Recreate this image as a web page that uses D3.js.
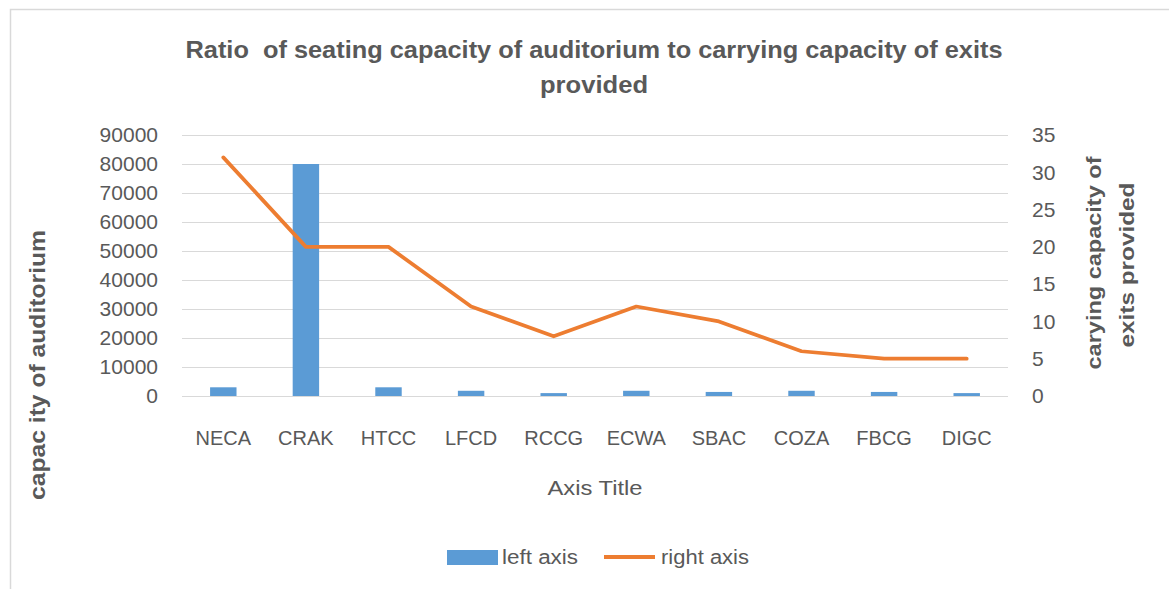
<!DOCTYPE html>
<html><head><meta charset="utf-8">
<script src="https://cdn.jsdelivr.net/npm/d3@7"></script>
<style>
body{margin:0;background:#fff;}
text{font-family:"Liberation Sans",Arial,sans-serif;fill:#595959;}
</style>
</head><body>
<svg id="c" width="1169" height="589"></svg>
<script>
const categories = ["NECA","CRAK","HTCC","LFCD","RCCG","ECWA","SBAC","COZA","FBCG","DIGC"];
const leftValues = [3000,80000,3000,1800,1000,1800,1400,1800,1400,1000];
const rightValues = [32,20,20,12,8,12,10,6,5,5];
const leftTicks = [0,10000,20000,30000,40000,50000,60000,70000,80000,90000];
const rightTicks = [0,5,10,15,20,25,30,35];
const titleLines = ["Ratio  of seating capacity of auditorium to carrying capacity of exits","provided"];
const leftTitle = "capac ity of auditorium";
const rightTitleLines = ["carying capacity of","exits provided"];
const xTitle = "Axis Title";
const legendLabels = ["left axis","right axis"];

const svg = d3.select("#c");
const L = 182, R = 1008, T = 135, B = 396;
const blue = "#5B9BD5", orange = "#ED7D31", grid = "#d9d9d9";

svg.append("rect").attr("x",10.5).attr("y",9.5).attr("width",1300).attr("height",700)
  .attr("fill","#fff").attr("stroke","#d9d9d9").attr("stroke-width",1.5);

const x = d3.scaleBand().domain(categories).range([L,R]);
const yL = d3.scaleLinear().domain([0,90000]).range([B,T]);
const yR = d3.scaleLinear().domain([0,35]).range([B,T]);

const ff = '"Liberation Sans",Arial,sans-serif';

const gL = svg.append("g").attr("transform",`translate(${L},0)`)
  .call(d3.axisLeft(yL).tickValues(leftTicks).tickSize(-(R-L)).tickPadding(24).tickFormat(d3.format("d")));
gL.select(".domain").remove();
gL.selectAll("line").attr("stroke",grid).attr("stroke-width",1);
gL.selectAll("text").attr("font-size",21).attr("fill","#595959").style("font-family",ff);

const gR = svg.append("g").attr("transform",`translate(${R},0)`)
  .call(d3.axisRight(yR).tickValues(rightTicks).tickSize(0).tickPadding(24));
gR.select(".domain").remove();
gR.selectAll("text").attr("font-size",21).attr("fill","#595959").style("font-family",ff);

const gB = svg.append("g").attr("transform",`translate(0,${B})`)
  .call(d3.axisBottom(x).tickSize(0).tickPadding(35));
gB.select(".domain").remove();
gB.selectAll("text").attr("font-size",20).attr("fill","#595959").style("font-family",ff);

const bw = x.bandwidth()*0.32;
svg.append("g").selectAll("rect").data(categories).join("rect")
  .attr("x",d=>x(d)+x.bandwidth()/2-bw/2)
  .attr("width",bw)
  .attr("y",(d,i)=>yL(leftValues[i]))
  .attr("height",(d,i)=>yL(0)-yL(leftValues[i]))
  .attr("fill",blue);

const line = d3.line().x(d=>x(d.c)+x.bandwidth()/2).y(d=>yR(d.v));
svg.append("path").datum(categories.map((c,i)=>({c,v:rightValues[i]})))
  .attr("d",line).attr("fill","none").attr("stroke",orange).attr("stroke-width",3.75)
  .attr("stroke-linejoin","round").attr("stroke-linecap","round");

svg.append("text").attr("x",594).attr("y",58).attr("text-anchor","middle")
  .attr("font-size",24).attr("font-weight","bold").style("white-space","pre")
  .attr("textLength",817).attr("lengthAdjust","spacingAndGlyphs").text(titleLines[0]);
svg.append("text").attr("x",594).attr("y",93).attr("text-anchor","middle")
  .attr("font-size",24).attr("font-weight","bold")
  .attr("textLength",108).attr("lengthAdjust","spacingAndGlyphs").text(titleLines[1]);

svg.append("text").attr("transform","translate(45,365) rotate(-90)").attr("text-anchor","middle")
  .attr("font-size",22).attr("font-weight","bold").style("white-space","pre")
  .attr("textLength",270).attr("lengthAdjust","spacingAndGlyphs").text(leftTitle);
svg.append("text").attr("transform","translate(1101,263) rotate(-90)").attr("text-anchor","middle")
  .attr("font-size",21).attr("font-weight","bold")
  .attr("textLength",213).attr("lengthAdjust","spacingAndGlyphs").text(rightTitleLines[0]);
svg.append("text").attr("transform","translate(1134,265) rotate(-90)").attr("text-anchor","middle")
  .attr("font-size",21).attr("font-weight","bold")
  .attr("textLength",165).attr("lengthAdjust","spacingAndGlyphs").text(rightTitleLines[1]);
svg.append("text").attr("x",595).attr("y",495).attr("text-anchor","middle")
  .attr("font-size",21).attr("textLength",95).attr("lengthAdjust","spacingAndGlyphs").text(xTitle);

svg.append("rect").attr("x",447).attr("y",550).attr("width",51).attr("height",15).attr("fill",blue);
svg.append("text").attr("x",502).attr("y",564).attr("font-size",20)
  .attr("textLength",76).attr("lengthAdjust","spacingAndGlyphs").text(legendLabels[0]);
svg.append("line").attr("x1",604).attr("x2",655).attr("y1",557).attr("y2",557)
  .attr("stroke",orange).attr("stroke-width",4);
svg.append("text").attr("x",661).attr("y",564).attr("font-size",20)
  .attr("textLength",88).attr("lengthAdjust","spacingAndGlyphs").text(legendLabels[1]);
</script>
</body></html>
